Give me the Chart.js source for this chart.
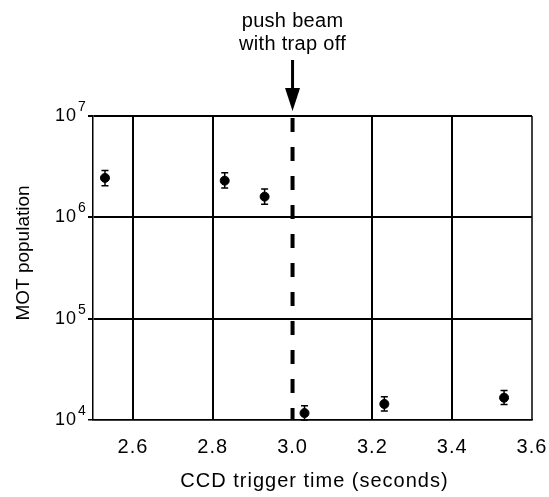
<!DOCTYPE html>
<html>
<head>
<meta charset="utf-8">
<script src="https://cdn.jsdelivr.net/npm/chart.js@4"></script>
<style>
  html, body { margin: 0; padding: 0; background: #fff; }
  #wrap { width: 549px; height: 497px; }
</style>
</head>
<body>
<div id="wrap"><canvas id="chart" width="549" height="497"></canvas></div>
<script>
/* DATA */
const times = [2.53, 2.83, 2.93, 3.03, 3.23, 3.53];
const population = [2.45e6, 2.3e6, 1.6e6, 1.17e4, 1.44e4, 1.66e4];
const popLow = [2.05e6, 1.95e6, 1.35e6, 1.0e4, 1.23e4, 1.42e4];
const popHigh = [2.9e6, 2.75e6, 1.9e6, 1.38e4, 1.7e4, 1.95e4];
const xTicks = [2.6, 2.8, 3.0, 3.2, 3.4, 3.6];
const yTicks = [1e4, 1e5, 1e6, 1e7];
const pushTime = 3.0;
const pushLabel = ["push beam", "with trap off"];
const xTitle = "CCD trigger time (seconds)";
const yTitle = "MOT population";

const FONT = "'Liberation Sans', Arial, sans-serif";

/* ERROR BARS */
const errorBars = {
  id: "errorBars",
  afterDatasetsDraw(chart) {
    const { ctx, scales: { x, y } } = chart;
    ctx.save();
    ctx.strokeStyle = "#000";
    ctx.lineWidth = 1.5;
    times.forEach((t, i) => {
      const px = x.getPixelForValue(t);
      const lo = y.getPixelForValue(popLow[i]);
      const hi = y.getPixelForValue(popHigh[i]);
      ctx.beginPath();
      ctx.moveTo(px, lo); ctx.lineTo(px, hi);
      ctx.moveTo(px - 3.5, lo); ctx.lineTo(px + 3.5, lo);
      ctx.moveTo(px - 3.5, hi); ctx.lineTo(px + 3.5, hi);
      ctx.stroke();
    });
    ctx.restore();
  }
};

/* TEXT SPACING (scanned figure has wide lettering) */
const spacing = {
  id: "spacing",
  beforeDraw(chart) { chart.ctx.letterSpacing = "1px"; },
  afterDraw(chart) { chart.ctx.letterSpacing = "0px"; }
};

/* PUSH MARKER, TITLES, EXPONENTS */
const annotations = {
  id: "annotations",
  afterDatasetsDraw(chart) {
    const { ctx, chartArea, scales: { x, y } } = chart;
    const px = x.getPixelForValue(pushTime);
    ctx.save();
    ctx.strokeStyle = "#000";
    ctx.fillStyle = "#000";

    // dashed line
    ctx.lineWidth = 4;
    ctx.setLineDash([14, 15]);
    ctx.lineDashOffset = -2;
    ctx.beginPath();
    ctx.moveTo(px, chartArea.top);
    ctx.lineTo(px, chartArea.bottom);
    ctx.stroke();
    ctx.setLineDash([]);

    // arrow
    ctx.lineWidth = 3;
    ctx.beginPath();
    ctx.moveTo(px, 60);
    ctx.lineTo(px, 92);
    ctx.stroke();
    ctx.beginPath();
    ctx.moveTo(px - 7.5, 88);
    ctx.lineTo(px + 7.5, 88);
    ctx.lineTo(px, chartArea.top - 5);
    ctx.closePath();
    ctx.fill();

    // right border
    ctx.lineWidth = 1.5;
    ctx.beginPath();
    ctx.moveTo(chartArea.right, chartArea.top);
    ctx.lineTo(chartArea.right, chartArea.bottom);
    ctx.stroke();

    // label above
    ctx.letterSpacing = "0.3px";
    ctx.font = "20px " + FONT;
    ctx.textAlign = "center";
    ctx.textBaseline = "alphabetic";
    ctx.fillText(pushLabel[0], px, 27);
    ctx.fillText(pushLabel[1], px, 50);

    // x title
    ctx.letterSpacing = "1px";
    ctx.font = "20px " + FONT;
    ctx.fillText(xTitle, (chartArea.left + chartArea.right) / 2 + 2, 487);

    // y title
    ctx.letterSpacing = "0px";
    ctx.font = "19px " + FONT;
    ctx.save();
    ctx.translate(29, 253);
    ctx.rotate(-Math.PI / 2);
    ctx.fillText(yTitle, 0, 0);
    ctx.restore();

    // exponents of y tick labels
    ctx.font = "14px " + FONT;
    ctx.textAlign = "left";
    ctx.textBaseline = "middle";
    yTicks.forEach(v => {
      const py = y.getPixelForValue(v);
      ctx.fillText(String(Math.round(Math.log10(v))), 78, py - 9);
    });
    ctx.restore();
  }
};

new Chart(document.getElementById("chart"), {
  type: "scatter",
  data: {
    datasets: [{
      data: times.map((t, i) => ({ x: t, y: population[i] })),
      backgroundColor: "#000",
      borderColor: "#000",
      pointRadius: 4.5,
      pointHoverRadius: 4.5
    }]
  },
  options: {
    responsive: false,
    animation: false,
    layout: { padding: { top: 116, right: 17, left: 0, bottom: 0 } },
    plugins: { legend: { display: false }, tooltip: { enabled: false } },
    scales: {
      x: {
        type: "linear",
        min: 2.5,
        max: 3.6,
        afterBuildTicks: s => { s.ticks = xTicks.map(v => ({ value: v })); },
        afterFit: s => { s.height = 77; s.paddingLeft = 0; s.paddingRight = 0; },
        ticks: {
          color: "#000",
          font: { family: FONT, size: 20 },
          padding: 15,
          maxRotation: 0,
          autoSkip: false,
          callback: v => v.toFixed(1)
        },
        grid: {
          color: c => c.tick && (c.tick.value === pushTime || c.tick.value === 3.6) ? "rgba(0,0,0,0)" : "#000",
          lineWidth: 2,
          drawTicks: false
        },
        border: { display: true, color: "#000", width: 1.5 }
      },
      y: {
        type: "logarithmic",
        min: 1e4,
        max: 1e7,
        afterBuildTicks: s => { s.ticks = yTicks.map(v => ({ value: v })); },
        afterFit: s => { s.width = 93; s.paddingTop = 0; s.paddingBottom = 0; },
        ticks: {
          color: "#000",
          font: { family: FONT, size: 18 },
          padding: 11,
          autoSkip: false,
          callback: () => "10"
        },
        grid: {
          color: "#000",
          lineWidth: c => c.tick && c.tick.value === 1e4 ? 1.5 : 2,
          tickLength: 5
        },
        border: { display: true, color: "#000", width: 1.5 }
      }
    }
  },
  plugins: [spacing, errorBars, annotations]
});
</script>
</body>
</html>
